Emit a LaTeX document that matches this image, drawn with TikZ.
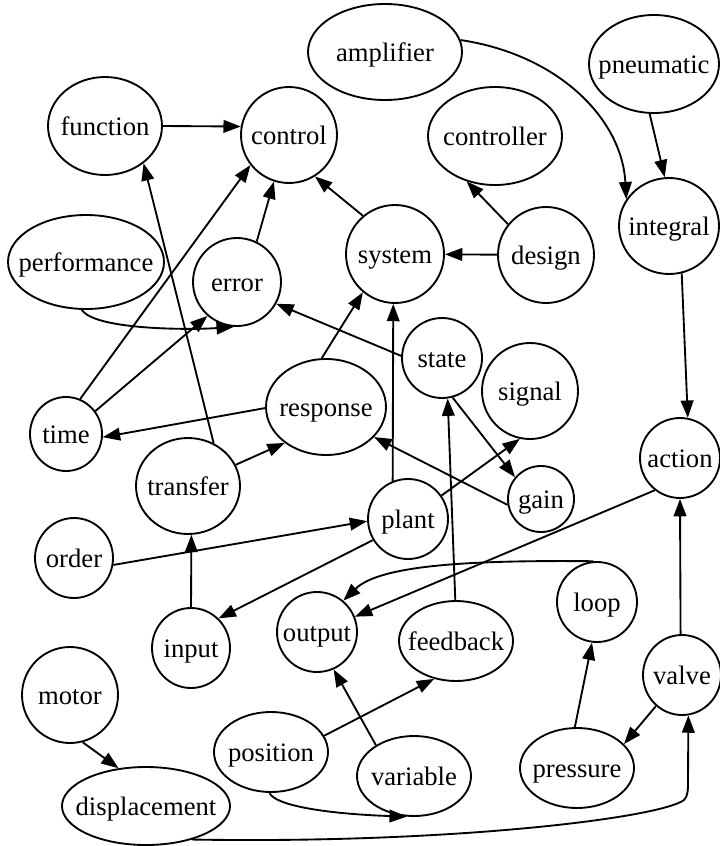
\documentclass[tikz,border=0pt]{standalone}
\usepackage{fontspec}
\setmainfont{Liberation Serif}
\usetikzlibrary{shapes.geometric,arrows.meta}
\newcommand\ntx[1]{\makebox[0pt]{#1}}
\begin{document}
\begin{tikzpicture}[x=0.75pt,y=-0.75pt,
  nd/.style={draw, ellipse, line width=1.4pt, inner sep=0pt, text height=13.8pt, text depth=0pt,
    font=\fontsize{20}{22}\selectfont},
  sz/.style 2 args={minimum width=#1*0.75pt, minimum height=#2*0.75pt},
  ed/.style={line width=1.4pt, -{Triangle[length=13pt,width=9.5pt]}}]
\useasboundingbox (0,0) rectangle (720,846);
\node[nd,sz={154}{96}] (amplifier) at (385,52) {\ntx{amplifier}};
\node[nd,sz={130}{98}] (pneumatic) at (654,64) {\ntx{pneumatic}};
\node[nd,sz={114}{98}] (function) at (105,126) {\ntx{function}};
\node[nd,sz={96}{96}] (control) at (289,135) {\ntx{control}};
\node[nd,sz={134}{98}] (controller) at (495,136) {\ntx{controller}};
\node[nd,sz={100}{96}] (integral) at (669,226) {\ntx{integral}};
\node[nd,sz={96}{96}] (design) at (546,255) {\ntx{design}};
\node[nd,sz={98}{98}] (system) at (395,254) {\ntx{system}};
\node[nd,sz={156}{94}] (performance) at (86,262) {\ntx{performance}};
\node[nd,sz={88}{88}] (error) at (237,282) {\ntx{error}};
\node[nd,sz={80}{80}] (state) at (442,358) {\ntx{state}};
\node[nd,sz={96}{96}] (signal) at (530,391) {\ntx{signal}};
\node[nd,sz={120}{96}] (response) at (326,407) {\ntx{response}};
\node[nd,sz={72}{74}] (time) at (66,434) {\ntx{time}};
\node[nd,sz={104}{96}] (transfer) at (188,486) {\ntx{transfer}};
\node[nd,sz={80}{80}] (action) at (680,458) {\ntx{action}};
\node[nd,sz={66}{66}] (gain) at (541,499) {\ntx{gain}};
\node[nd,sz={80}{80}] (plant) at (408,519) {\ntx{plant}};
\node[nd,sz={78}{80}] (order) at (74,558) {\ntx{order}};
\node[nd,sz={78}{80}] (input) at (191,648) {\ntx{input}};
\node[nd,sz={80}{80}] (output) at (317,632) {\ntx{output}};
\node[nd,sz={114}{80}] (feedback) at (456,641) {\ntx{feedback}};
\node[nd,sz={80}{80}] (loop) at (597,602) {\ntx{loop}};
\node[nd,sz={78}{80}] (valve) at (682,675) {\ntx{valve}};
\node[nd,sz={96}{96}] (motor) at (70,695) {\ntx{motor}};
\node[nd,sz={114}{80}] (position) at (271,752) {\ntx{position}};
\node[nd,sz={114}{80}] (variable) at (414,776) {\ntx{variable}};
\node[nd,sz={114}{80}] (pressure) at (577,768) {\ntx{pressure}};
\node[nd,sz={168}{78}] (displacement) at (146,806) {\ntx{displacement}};

\draw[ed] (function.east) -- (control.170);
\draw[ed] (time.68) -- (control.218);
\draw[ed] (error.64) -- (control.252);
\draw[ed] (system.130) -- (control.302);
\draw[ed] (design.141) -- (controller.238);
\draw[ed] (design) -- (system);
\draw[ed] (amplifier.9) .. controls (560,55) and (622,120) .. (integral.148);
\draw[ed] (pneumatic.265) -- (integral.95);
\draw[ed] (integral.285) -- (action.79);
\draw[ed] (performance.265) .. controls (95,330) and (190,330) .. (error.266);
\draw[ed] (time.38) -- (error.229);
\draw[ed] (transfer.59) -- (function.316);
\draw[ed] (state.177) -- (error.331);
\draw[ed] (response.95) -- (system.230);
\draw[ed] (response.181) -- (time.355);
\draw[ed] (transfer.24) -- (response.221);
\draw[ed] (plant.112) -- (system.268);
\draw[ed] (state.285) -- (gain.140);
\draw[ed] (plant.35) -- (signal.258);
\draw[ed] (gain.190) -- (response.328);
\draw[ed] (feedback.91) -- (state.278);
\draw[ed] (order.350) -- (plant.183);
\draw[ed] (input.north) -- (transfer.274);
\draw[ed] (plant.211) -- (input.47);
\draw[ed] (action.232) -- (output.22);
\draw[ed] (loop.95) .. controls (470,560) and (380,565) .. (output.50);
\draw[ed] (valve.92) -- (action.270);
\draw[ed] (valve.230) -- (pressure.27);
\draw[ed] (pressure.93) -- (loop.263);
\draw[ed] (displacement.324) .. controls (450,844) and (660,818) .. (684,800) .. controls (688,796) and (688,790) .. (688,780) -- (valve.279);
\draw[ed] (motor.285) -- (displacement.126);
\draw[ed] (position.17) -- (feedback.240);
\draw[ed] (variable.141) -- (output.294);
\draw[ed] (position.268) .. controls (275,806) and (330,814) .. (variable.260);
\end{tikzpicture}
\end{document}
